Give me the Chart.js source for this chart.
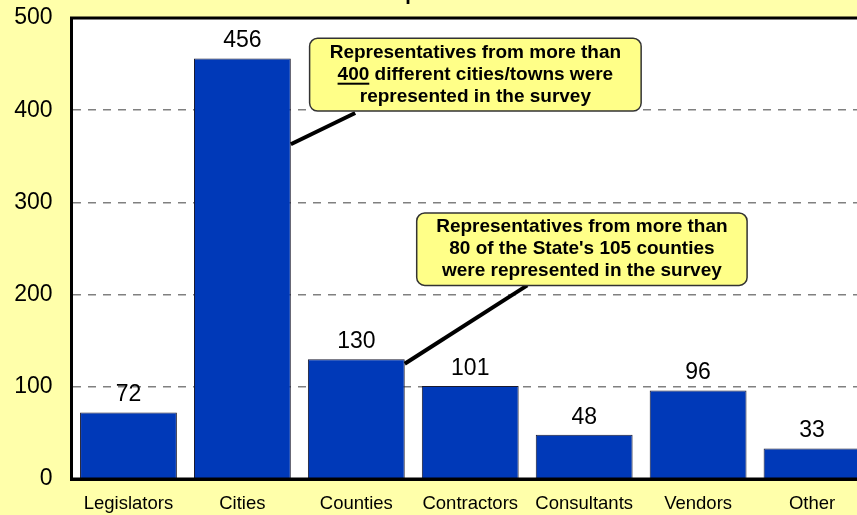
<!DOCTYPE html>
<html>
<head>
<meta charset="utf-8">
<script src="https://cdn.jsdelivr.net/npm/chart.js@4"></script>
<style>
  html, body { margin: 0; padding: 0; overflow: hidden; background: #FFFFAA; width: 857px; height: 515px; }
  #wrap { position: absolute; left: 0; top: -30px; }
</style>
</head>
<body>
<div id="wrap"><canvas id="respChart" width="890" height="545"></canvas></div>
<script>
const categories = ['Legislators', 'Cities', 'Counties', 'Contractors', 'Consultants', 'Vendors', 'Other'];
const respondents = [72, 456, 130, 101, 48, 96, 33];
const yMin = 0, yMax = 500, yStep = 100;
const titleText = 'Respondents';

// callout boxes, placed in axis units (category index / count)
const calloutTexts = [
    [[['Representatives from more than']], [['400', true], [' different cities/towns were']], [['represented in the survey']]],
    [[['Representatives from more than']], [["80 of the State's 105 counties"]], [['were represented in the survey']]]
];
const calloutBoxes = [[1.59, 4.5, 478, 399], [2.53, 5.43, 288.5, 210]];
const calloutLeaders = [[1.425, 363, 1.99, 397], [2.425, 125, 3.5, 210]];

const FONT = '"Liberation Sans", Arial, sans-serif';

const decor = {
    id: 'decor',
    beforeDraw(chart) {
        const {ctx, chartArea: a} = chart;
        ctx.save();
        ctx.fillStyle = '#ffffff';
        ctx.fillRect(a.left, a.top, a.right - a.left, a.bottom - a.top);
        // title, mostly above the visible page
        ctx.fillStyle = '#000';
        ctx.font = 'bold 20px ' + FONT;
        ctx.textAlign = 'center';
        ctx.textBaseline = 'alphabetic';
        ctx.fillText(titleText, 432, 30);
        ctx.restore();
    },
    afterDatasetsDraw(chart) {
        const {ctx, chartArea: a, scales: {x, y}} = chart;
        ctx.save();
        // value labels
        ctx.fillStyle = '#000';
        ctx.font = '23px ' + FONT;
        ctx.textAlign = 'center';
        ctx.textBaseline = 'middle';
        chart.getDatasetMeta(0).data.forEach((bar, i) => {
            ctx.fillText(String(respondents[i]), bar.x, bar.y - 17.5);
        });
        // frame: top line and bottom axis over the bars
        ctx.strokeStyle = '#000';
        ctx.lineWidth = 3;
        ctx.beginPath();
        ctx.moveTo(a.left - 1.5, a.top);
        ctx.lineTo(a.right, a.top);
        ctx.moveTo(a.left - 1.5, a.bottom);
        ctx.lineTo(a.right, a.bottom);
        ctx.stroke();

        // leader lines
        ctx.lineWidth = 4;
        calloutLeaders.forEach(([i0, v0, i1, v1]) => {
            ctx.beginPath();
            ctx.moveTo(x.getPixelForValue(i0), y.getPixelForValue(v0));
            ctx.lineTo(x.getPixelForValue(i1), y.getPixelForValue(v1));
            ctx.stroke();
        });

        // callout boxes
        calloutBoxes.forEach(([i0, i1, vTop, vBot], k) => {
            const l = x.getPixelForValue(i0), r = x.getPixelForValue(i1);
            const t = y.getPixelForValue(vTop), b = y.getPixelForValue(vBot);
            ctx.beginPath();
            ctx.roundRect(l, t, r - l, b - t, 8);
            ctx.fillStyle = '#FFFF88';
            ctx.fill();
            ctx.lineWidth = 1.5;
            ctx.strokeStyle = '#333';
            ctx.stroke();

            ctx.fillStyle = '#000';
            ctx.font = 'bold 19px ' + FONT;
            ctx.textAlign = 'left';
            ctx.textBaseline = 'middle';
            const lines = calloutTexts[k];
            const lh = 22;
            const cx = (l + r) / 2, cy = (t + b) / 2;
            lines.forEach((parts, j) => {
                const ly = cy + (j - (lines.length - 1) / 2) * lh;
                const w = parts.reduce((s, p) => s + ctx.measureText(p[0]).width, 0);
                let px = cx - w / 2;
                parts.forEach(([txt, under]) => {
                    const tw = ctx.measureText(txt).width;
                    ctx.fillText(txt, px, ly);
                    if (under) {
                        ctx.fillRect(px, ly + 8, tw, 2);
                    }
                    px += tw;
                });
            });
        });
        ctx.restore();
    }
};

new Chart(document.getElementById('respChart'), {
    type: 'bar',
    data: {
        labels: categories,
        datasets: [{
            data: respondents,
            backgroundColor: '#0039B8',
            borderColor: '#1a1a2e',
            borderWidth: 1,
            barPercentage: 0.85,
            categoryPercentage: 1
        }]
    },
    options: {
        responsive: false,
        animation: false,
        layout: { padding: { top: 48, right: 21, left: 0, bottom: 0 } },
        plugins: { legend: { display: false }, tooltip: { enabled: false } },
        scales: {
            x: {
                afterFit: s => { s.height = 36; },
                grid: { display: false, drawTicks: false },
                border: { color: '#000', width: 3 },
                ticks: { color: '#000', font: { family: FONT, size: 18.5 }, padding: 14, maxRotation: 0, autoSkip: false }
            },
            y: {
                min: yMin,
                max: yMax,
                afterFit: s => { s.width = 71.5; },
                grid: { color: '#808080', lineWidth: 1.5, drawTicks: false },
                border: { color: '#000', width: 3, dash: [8, 7] },
                ticks: { stepSize: yStep, color: '#000', font: { family: FONT, size: 23 }, padding: 19 }
            }
        }
    },
    plugins: [decor]
});
</script>
</body>
</html>
